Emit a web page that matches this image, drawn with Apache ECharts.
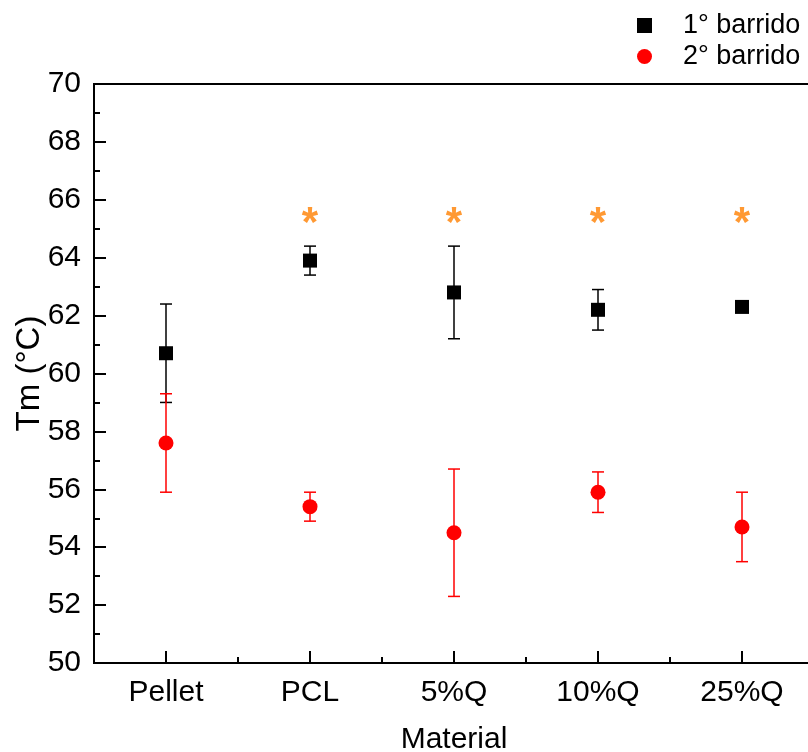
<!DOCTYPE html>
<html><head><meta charset="utf-8">
<script src="https://cdn.jsdelivr.net/npm/echarts@6/dist/echarts.min.js"></script>
<style>html,body{margin:0;padding:0;background:#fff}#c{width:808px;height:752px}</style>
</head><body><div id="c"></div><script>
const categories = ['Pellet', 'PCL', '5%Q', '10%Q', '25%Q'];
const scan1 = [60.7, 63.9, 62.8, 62.2, 62.3];
const scan1Low = [59.0, 63.4, 61.2, 61.5, null];
const scan1High = [62.4, 64.4, 64.4, 62.9, null];
const scan2 = [57.6, 55.4, 54.5, 55.9, 54.7];
const scan2Low = [55.9, 54.9, 52.3, 55.2, 53.5];
const scan2High = [59.3, 55.9, 56.7, 56.6, 55.9];
const markCategories = ['PCL', '5%Q', '10%Q', '25%Q'];
const markValues = [65.5, 65.5, 65.5, 65.5];
const seriesNames = ['1° barrido', '2° barrido'];

const FONT = 'Liberation Sans, Arial, sans-serif';

function errData(low, high) {
  const out = [];
  for (let i = 0; i < categories.length; i++) {
    if (low[i] != null && high[i] != null) out.push([i, low[i], high[i]]);
  }
  return out;
}
function errSeries(name, low, high, color) {
  return {
    type: 'custom', name: name, xAxisIndex: 0, yAxisIndex: 0,
    data: errData(low, high), z: 1, silent: true, clip: false,
    renderItem: function (params, api) {
      const x = api.value(0);
      const lo = api.coord([x, api.value(1)]);
      const hi = api.coord([x, api.value(2)]);
      const hw = 6;
      const st = { stroke: color, lineWidth: 1.5 };
      return { type: 'group', children: [
        { type: 'line', shape: { x1: hi[0], y1: hi[1], x2: lo[0], y2: lo[1] }, style: st },
        { type: 'line', shape: { x1: hi[0] - hw, y1: hi[1], x2: hi[0] + hw, y2: hi[1] }, style: st },
        { type: 'line', shape: { x1: lo[0] - hw, y1: lo[1], x2: lo[0] + hw, y2: lo[1] }, style: st }
      ]};
    }
  };
}

const chart = echarts.init(document.getElementById('c'), null, { renderer: 'canvas' });
chart.setOption({
  animation: false,
  backgroundColor: '#fff',
  textStyle: { fontFamily: FONT },
  grid: { left: 94, width: 720, top: 84, height: 579, outerBoundsMode: 'none', containLabel: false,
    show: true, borderColor: '#000', borderWidth: 2 },
  legend: {
    data: seriesNames, orient: 'vertical', left: 637, top: 12, padding: 0,
    itemWidth: 15, itemHeight: 15, itemGap: 4,
    textStyle: { fontSize: 27, color: '#000', fontFamily: FONT, lineHeight: 27, padding: [0, 0, 0, 26] }
  },
  xAxis: [{
    type: 'category', data: categories, boundaryGap: true,
    axisLine: { show: true, lineStyle: { color: '#000', width: 2 } },
    axisTick: { show: true, inside: true, alignWithLabel: true, length: 12, lineStyle: { color: '#000', width: 2 } },
    axisLabel: { fontSize: 30, color: '#000', margin: 15, fontFamily: FONT },
    splitLine: { show: false },
    name: 'Material', nameLocation: 'middle', nameGap: 62, nameMoveOverlap: false,
    nameTextStyle: { fontSize: 30, color: '#000', fontFamily: FONT }
  }, {
    type: 'category', data: categories, boundaryGap: true, position: 'bottom',
    axisLine: { show: false },
    axisTick: { show: true, inside: true, length: 6, lineStyle: { color: '#000', width: 2 } },
    axisLabel: { show: false }, splitLine: { show: false }
  }],
  yAxis: [{
    type: 'value', min: 50, max: 70, interval: 2,
    axisLine: { show: true, lineStyle: { color: '#000', width: 2 } },
    axisTick: { show: true, inside: true, length: 12, lineStyle: { color: '#000', width: 2 } },
    minorTick: { show: true, splitNumber: 2, length: 6, lineStyle: { color: '#000', width: 2 } },
    axisLabel: { fontSize: 30, color: '#000', margin: 13, fontFamily: FONT },
    splitLine: { show: false },
    name: 'Tm (°C)', nameLocation: 'middle', nameGap: 48, nameRotate: 90, nameMoveOverlap: false,
    nameTextStyle: { fontSize: 33, color: '#000', fontFamily: FONT }
  }],
  series: [
    errSeries('err1', scan1Low, scan1High, '#000'),
    errSeries('err2', scan2Low, scan2High, '#ff0000'),
    {
      type: 'scatter', name: seriesNames[0], data: scan1, symbol: 'rect', symbolSize: 14, z: 3,
      itemStyle: { color: '#000', opacity: 1 }
    },
    {
      type: 'scatter', name: seriesNames[1], data: scan2, symbol: 'circle', symbolSize: 15, z: 3,
      itemStyle: { color: '#ff0000', opacity: 1 }
    },
    {
      type: 'scatter', name: 'sig', symbol: 'circle', symbolSize: 1, z: 4,
      itemStyle: { color: 'rgba(0,0,0,0)' },
      data: markCategories.map((c, i) => [c, markValues[i]]),
      label: { show: true, position: 'inside', formatter: '*', fontSize: 42, fontWeight: 'bold',
        color: '#ff8000', fontFamily: FONT, offset: [0, 10] }
    }
  ]
});
</script></body></html>
